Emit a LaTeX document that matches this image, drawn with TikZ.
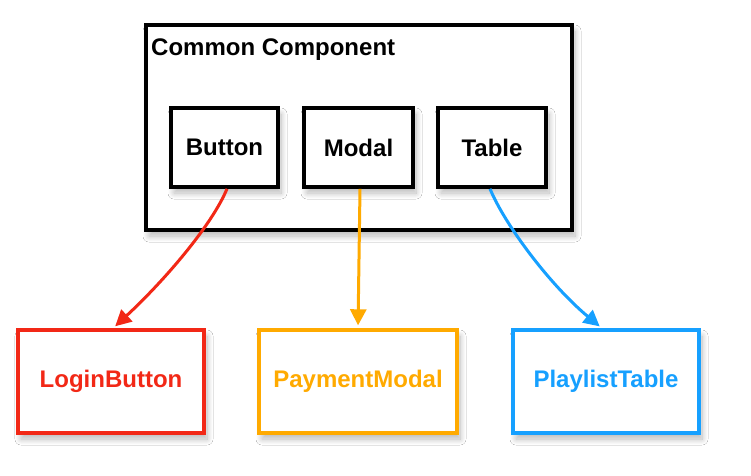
\documentclass[tikz,border=0pt]{standalone}
\usepackage{fontspec}
\setmainfont{Liberation Sans}
\usetikzlibrary{arrows.meta,shadows.blur}
\definecolor{cred}{RGB}{242,40,22}
\definecolor{corange}{RGB}{255,170,0}
\definecolor{cblue}{RGB}{22,160,255}
\tikzset{
  shd/.style={blur shadow={shadow xshift=3pt,shadow yshift=-6pt,shadow blur steps=12,shadow opacity=28,shadow blur radius=6pt}},
  outerbox/.style={draw=black,line width=4.2pt,fill=white,shd,minimum width=426pt,minimum height=205pt,inner sep=0pt},
  innerbox/.style={draw=black,line width=3.6pt,fill=white,shd,minimum height=79pt,inner sep=0pt,font=\fontsize{24}{28}\selectfont\bfseries},
  bottombox/.style={draw=#1,text=#1,line width=3.4pt,fill=white,shd,minimum width=186pt,minimum height=103pt,inner sep=0pt,font=\fontsize{24}{28}\selectfont\bfseries},
  conn/.style={draw=#1,line width=3pt,-{Triangle[length=16pt,width=16pt]},shorten >=3pt}
}
\begin{document}
\begin{tikzpicture}[x=1pt,y=-1pt]
\fill[white] (0,0) rectangle (751,475);
\useasboundingbox (0,0) rectangle (751,475);
\node[outerbox] (common) at (359,127.5) {};
\node[anchor=base west,inner sep=0pt,font=\fontsize{24}{28}\selectfont\bfseries] (title) at (151,55) {Common Component};
\node[innerbox,minimum width=107pt] (button) at (224.5,147.5) {Button};
\node[innerbox,minimum width=109pt] (modal) at (358.5,147.5) {Modal};
\node[innerbox,minimum width=108pt] (table) at (492,147.5) {Table};
\node[bottombox=cred] (login) at (111,381.5) {LoginButton};
\node[bottombox=corange,minimum width=198pt] (payment) at (358,381.5) {PaymentModal};
\node[bottombox=cblue] (playlist) at (606,381.5) {PlaylistTable};
\draw[conn=cred] ([xshift=2.5pt]button.south) .. controls (212,225) and (165,280) .. ([xshift=2pt]login.north);
\draw[conn=corange] ([xshift=1.5pt]modal.south) -- (payment.north);
\draw[conn=cblue] ([xshift=-2pt]table.south) .. controls (505,225) and (550,285) .. ([xshift=-4pt]playlist.north);
\end{tikzpicture}
\end{document}
